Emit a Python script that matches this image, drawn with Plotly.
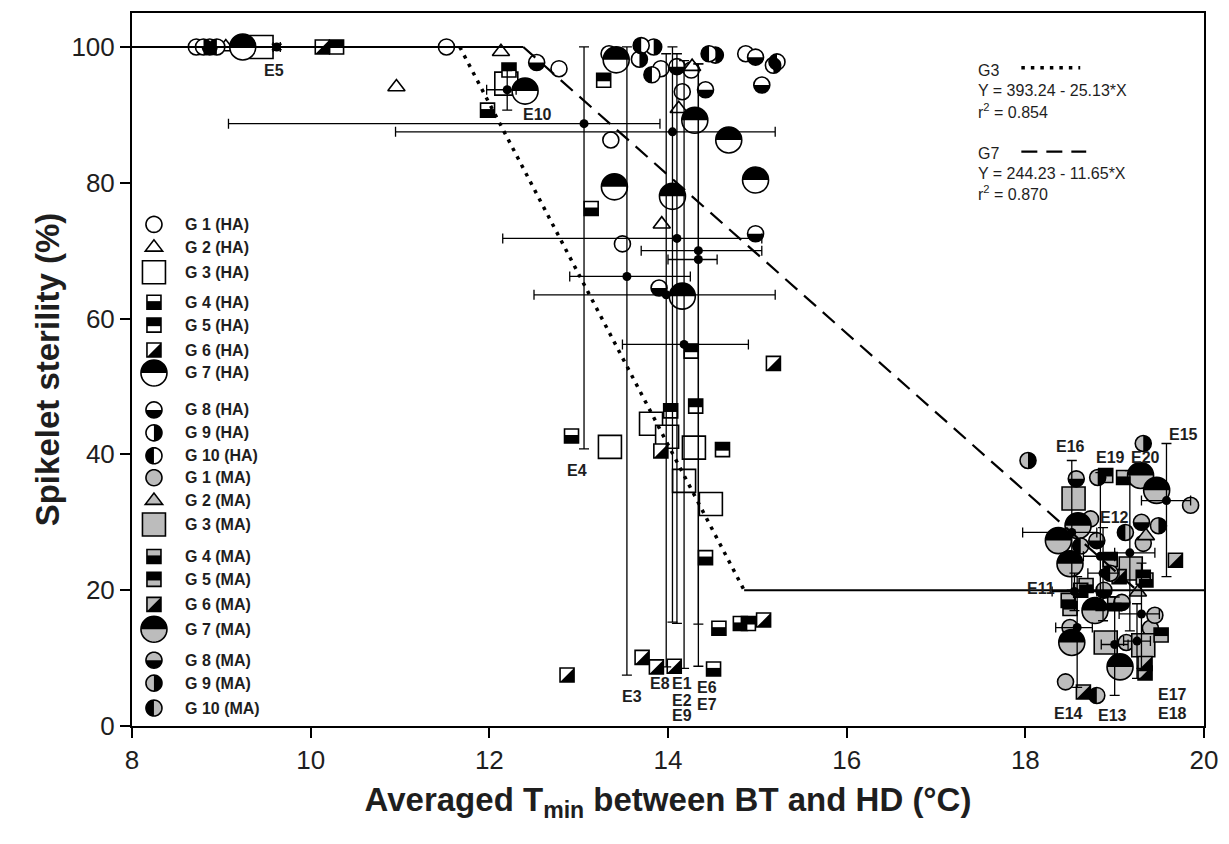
import math
import plotly.graph_objects as go

# ---------------- data ----------------
# HA = high-altitude (white), MA = mid-altitude (grey)
G1_HA_x = [8.72, 11.52, 12.78, 13.34, 13.36, 13.49, 13.92, 14.16, 14.26, 14.87]
G1_HA_y = [100.0, 100.0, 96.8, 99.0, 86.3, 71.0, 96.8, 93.4, 96.6, 99.0]
G2_HA_x = [9.05, 10.96, 12.13, 14.27, 14.12, 13.93]
G2_HA_y = [100.0, 94.1, 99.3, 97.1, 90.9, 73.9]
G3_HA_x = [9.45, 12.19, 13.35, 13.81, 13.99, 14.29, 14.18, 14.48]
G3_HA_y = [100.0, 94.6, 41.1, 44.5, 42.6, 41.0, 36.1, 32.7]
G4_HA_x = [11.98, 13.14, 12.92, 14.42, 14.57, 14.51, 14.81]
G4_HA_y = [90.7, 76.2, 42.7, 24.8, 14.4, 8.4, 15.1]
G5_HA_x = [10.29, 12.22, 13.28, 14.03, 14.31, 14.61, 14.26, 14.90]
G5_HA_y = [100.0, 96.6, 95.1, 46.4, 47.1, 40.7, 55.2, 15.1]
G6_HA_x = [10.13, 15.18, 12.87, 13.71, 13.87, 14.07, 13.92, 15.07]
G6_HA_y = [100.0, 53.4, 7.5, 10.1, 8.7, 8.8, 40.5, 15.6]
G7_HA_x = [9.24, 12.40, 13.42, 14.30, 14.68, 13.40, 14.05, 14.98, 14.16]
G7_HA_y = [100.0, 93.5, 98.1, 89.2, 86.3, 79.4, 78.0, 80.4, 63.3]
G8_HA_x = [8.87, 12.53, 14.10, 14.42, 14.98, 15.05, 14.98, 13.90]
G8_HA_y = [100.0, 97.7, 97.1, 93.7, 98.5, 94.4, 72.5, 64.5]
G9_HA_x = [8.80, 13.68, 13.84, 14.53, 15.18]
G9_HA_y = [100.0, 98.2, 100.0, 98.8, 97.3]
G10_HA_x = [8.95, 13.70, 13.82, 14.46, 15.22]
G10_HA_y = [100.0, 100.2, 95.9, 99.0, 97.8]

G1_MA_x = [19.85, 18.73, 19.32, 19.40, 19.13, 18.50, 18.45, 19.45]
G1_MA_y = [32.5, 30.5, 26.9, 14.4, 12.3, 14.5, 6.5, 16.3]
G2_MA_x = [19.26, 19.35]
G2_MA_y = [19.7, 28.0]
G3_MA_x = [18.54, 19.18, 18.90, 19.32]
G3_MA_y = [33.5, 23.2, 12.3, 11.9]
G4_MA_x = [18.48, 18.68, 19.10, 19.35, 19.00]
G4_MA_y = [18.5, 20.7, 36.6, 21.5, 18.0]
G5_MA_x = [18.90, 19.52, 18.50, 19.32, 18.95]
G5_MA_y = [36.9, 13.4, 17.3, 21.9, 24.5]
G6_MA_x = [19.68, 18.65, 19.34, 19.34, 18.62, 19.05]
G6_MA_y = [24.4, 5.0, 7.8, 9.2, 20.0, 22.0]
G7_MA_x = [19.29, 19.47, 18.59, 18.37, 18.50, 18.78, 18.52, 19.06]
G7_MA_y = [36.9, 34.7, 29.5, 27.3, 23.9, 17.0, 12.3, 8.7]
G8_MA_x = [18.57, 18.80, 19.08, 18.88, 19.30]
G8_MA_y = [36.4, 27.3, 18.2, 20.0, 30.0]
G9_MA_x = [18.03, 19.32, 19.49, 18.81]
G9_MA_y = [39.1, 41.6, 29.5, 36.6]
G10_MA_x = [18.80, 19.12, 18.95, 18.62]
G10_MA_y = [4.5, 28.5, 22.5, 26.5]

# environment means with error bars
ENV_name = ["E1", "E2", "E3", "E4", "E5", "E6", "E7", "E8", "E9", "E10",
            "E11", "E12", "E13", "E14", "E15", "E16", "E17", "E18", "E19", "E20"]
ENV_x = [14.10, 14.34, 13.54, 13.06, 9.62, 14.18, 14.34, 13.98, 14.05, 12.20,
         18.55, 18.87, 19.00, 18.58, 19.58, 18.52, 19.30, 19.25, 18.84, 19.17]
ENV_y = [71.8, 70.0, 66.2, 88.7, 100.0, 56.2, 68.7, 63.5, 87.5, 93.7,
         19.8, 22.5, 12.0, 14.5, 33.2, 28.5, 16.5, 12.5, 25.0, 25.5]
ENV_x_lo = [12.15, 13.70, 12.90, 9.08, 9.58, 13.49, 14.00, 12.50, 10.95, 11.97,
            18.30, 18.70, 18.85, 18.34, 19.30, 17.97, 19.05, 19.10, 18.65, 19.00]
ENV_x_hi = [15.05, 15.05, 14.25, 13.91, 9.66, 14.90, 14.55, 15.20, 15.20, 12.30,
            18.80, 19.05, 19.15, 18.75, 19.85, 18.80, 19.50, 19.40, 19.00, 19.45]
ENV_y_lo = [15.1, 8.8, 7.5, 40.8, 99.6, 8.5, 15.0, 8.7, 15.3, 90.7,
            17.0, 15.5, 4.5, 5.7, 22.0, 20.0, 8.5, 7.0, 17.0, 14.0]
ENV_y_hi = [99.0, 97.5, 100.0, 100.0, 100.4, 98.0, 97.5, 99.0, 100.0, 96.5,
            22.5, 29.2, 19.0, 22.0, 41.6, 39.1, 24.0, 18.0, 37.3, 37.6]
# label positions for environment names
ENV_label_x = [14.16, 14.16, 13.60, 12.98, 9.59, 14.44, 14.44, 13.91, 14.16, 12.54,
               18.17, 19.00, 18.98, 18.48, 19.77, 18.50, 19.65, 19.65, 18.95, 19.35]
ENV_label_y = [6.3, 3.8, 4.3, 37.6, 96.6, 5.6, 3.2, 6.2, 1.5, 90.0,
               20.3, 30.7, 1.5, 1.9, 43.0, 41.1, 4.7, 1.8, 39.5, 39.5]

# fitted models
G3_intercept, G3_slope, G3_r2 = 393.24, -25.13, 0.854
G7_intercept, G7_slope, G7_r2 = 244.23, -11.65, 0.870
PLATEAU_HIGH, PLATEAU_LOW = 100.0, 20.0
X_MIN, X_MAX = 8.0, 20.0

# ---------------- styling ----------------
WHITE = "white"
GREY = "#bcbcbc"
INK = "#1e1e1e"
FONT = "Liberation Sans, Arial, sans-serif"

KIND_STYLE = {
    "G 1": ("circle", "circle", 16),
    "G 2": ("triangle-up", "none", 15),
    "G 3": ("square", "none", 23),
    "G 4": ("square", "sq_bottom", 14),
    "G 5": ("square", "sq_top", 14),
    "G 6": ("square", "sq_diag", 14),
    "G 7": ("circle", "circ_top", 26),
    "G 8": ("circle", "circ_bottom", 16),
    "G 9": ("circle", "circ_right", 16),
    "G 10": ("circle", "circ_left", 16),
}

GROUPS = [
    ("G 1 (HA)", G1_HA_x, G1_HA_y, WHITE), ("G 2 (HA)", G2_HA_x, G2_HA_y, WHITE),
    ("G 3 (HA)", G3_HA_x, G3_HA_y, WHITE), ("G 4 (HA)", G4_HA_x, G4_HA_y, WHITE),
    ("G 5 (HA)", G5_HA_x, G5_HA_y, WHITE), ("G 6 (HA)", G6_HA_x, G6_HA_y, WHITE),
    ("G 7 (HA)", G7_HA_x, G7_HA_y, WHITE), ("G 8 (HA)", G8_HA_x, G8_HA_y, WHITE),
    ("G 9 (HA)", G9_HA_x, G9_HA_y, WHITE), ("G 10 (HA)", G10_HA_x, G10_HA_y, WHITE),
    ("G 1 (MA)", G1_MA_x, G1_MA_y, GREY), ("G 2 (MA)", G2_MA_x, G2_MA_y, GREY),
    ("G 3 (MA)", G3_MA_x, G3_MA_y, GREY), ("G 4 (MA)", G4_MA_x, G4_MA_y, GREY),
    ("G 5 (MA)", G5_MA_x, G5_MA_y, GREY), ("G 6 (MA)", G6_MA_x, G6_MA_y, GREY),
    ("G 7 (MA)", G7_MA_x, G7_MA_y, GREY), ("G 8 (MA)", G8_MA_x, G8_MA_y, GREY),
    ("G 9 (MA)", G9_MA_x, G9_MA_y, GREY), ("G 10 (MA)", G10_MA_x, G10_MA_y, GREY),
]

# legend rows: vertical pixel centre of each row (screen pixels)
LEGEND_ROW_PX = [223, 246, 271, 301, 324, 349, 372, 409, 432, 455,
                 477, 500, 524, 556, 579, 604, 629, 660, 683, 708]

OFF = 8                      # page body margin
W, H = 1213, 828
ML, MR, MT, MB = 124, 15, 3, 110
PW, PH = W - ML - MR, H - MT - MB


def px_to_paper(px, py):
    fx, fy = px - OFF, py - OFF
    return (fx - ML) / PW, (H - MB - fy) / PH


def path_from(points):
    return "M " + " L ".join(f"{x:.2f},{y:.2f}" for x, y in points) + " Z"


def arc(r, a0, a1, n=18):
    return [(r * math.cos(math.radians(a0 + (a1 - a0) * i / n)),
             r * math.sin(math.radians(a0 + (a1 - a0) * i / n))) for i in range(n + 1)]


def half_path(kind, size):
    r = size / 2.0
    if kind == "circ_top":
        return path_from(arc(r, 0, 180))
    if kind == "circ_bottom":
        return path_from(arc(r, 180, 360))
    if kind == "circ_right":
        return path_from(arc(r, -90, 90))
    if kind == "circ_left":
        return path_from(arc(r, 90, 270))
    if kind == "sq_bottom":
        return path_from([(-r, -r), (r, -r), (r, 0.15 * r), (-r, 0.15 * r)])
    if kind == "sq_top":
        return path_from([(-r, r), (r, r), (r, -0.15 * r), (-r, -0.15 * r)])
    if kind == "sq_diag":
        return path_from([(-r, -r), (r, -r), (r, r)])
    return None


def base_path(symbol, size):
    r = size / 2.0
    if symbol == "circle":
        return path_from(arc(r, 0, 360, 36)[:-1])
    if symbol == "square":
        return path_from([(-r, -r), (r, -r), (r, r), (-r, r)])
    rt = r * 2 / math.sqrt(3)
    return path_from([(-rt, -r / 2), (rt, -r / 2), (0, r)])


fig = go.Figure()
shapes = []

# group markers
for name, xs, ys, fill in GROUPS:
    key = name.split(" (")[0]
    symbol, half, size = KIND_STYLE[key]
    fig.add_trace(go.Scatter(
        x=xs, y=ys, mode="markers", name=name, showlegend=False,
        marker=dict(symbol=symbol, size=size, color=fill,
                    line=dict(color="black", width=1.6)),
        cliponaxis=False))
    hp = half_path(half, size)
    if hp:
        for x, y in zip(xs, ys):
            shapes.append(dict(type="path", xref="x", yref="y",
                               xsizemode="pixel", ysizemode="pixel",
                               xanchor=x, yanchor=y, path=hp,
                               fillcolor="black", line=dict(width=0), layer="above"))

# regression lines
x_g3_top = (PLATEAU_HIGH - G3_intercept) / G3_slope
x_g3_bot = (PLATEAU_LOW - G3_intercept) / G3_slope
x_g7_top = (PLATEAU_HIGH - G7_intercept) / G7_slope
x_g7_bot = (PLATEAU_LOW - G7_intercept) / G7_slope

fig.add_trace(go.Scatter(x=[X_MIN, x_g7_top], y=[PLATEAU_HIGH, PLATEAU_HIGH], mode="lines",
                         line=dict(color="black", width=2), showlegend=False))
fig.add_trace(go.Scatter(x=[x_g3_bot, X_MAX], y=[PLATEAU_LOW, PLATEAU_LOW], mode="lines",
                         line=dict(color="black", width=2), showlegend=False))
fig.add_trace(go.Scatter(x=[x_g3_top, x_g3_bot],
                         y=[G3_intercept + G3_slope * x_g3_top, G3_intercept + G3_slope * x_g3_bot],
                         mode="lines", line=dict(color="black", width=3.5, dash="3.5px,6px"),
                         showlegend=False))
fig.add_trace(go.Scatter(x=[x_g7_top, x_g7_bot],
                         y=[G7_intercept + G7_slope * x_g7_top, G7_intercept + G7_slope * x_g7_bot],
                         mode="lines", line=dict(color="black", width=2.2, dash="16px,9px"),
                         showlegend=False))

# environment means with error bars
fig.add_trace(go.Scatter(
    x=ENV_x, y=ENV_y, mode="markers", showlegend=False, cliponaxis=False,
    marker=dict(color="black", size=9),
    error_x=dict(type="data", symmetric=False,
                 array=[h - x for h, x in zip(ENV_x_hi, ENV_x)],
                 arrayminus=[x - l for l, x in zip(ENV_x_lo, ENV_x)],
                 color="black", thickness=1.3, width=5),
    error_y=dict(type="data", symmetric=False,
                 array=[h - y for h, y in zip(ENV_y_hi, ENV_y)],
                 arrayminus=[y - l for l, y in zip(ENV_y_lo, ENV_y)],
                 color="black", thickness=1.3, width=5)))

annotations = []
for n, lx, ly in zip(ENV_name, ENV_label_x, ENV_label_y):
    annotations.append(dict(x=lx, y=ly, xref="x", yref="y", text=f"<b>{n}</b>",
                            showarrow=False, font=dict(family=FONT, size=16, color=INK)))

# manual legend
for (name, xs, ys, fill), py in zip(GROUPS, LEGEND_ROW_PX):
    key = name.split(" (")[0]
    symbol, half, size = KIND_STYLE[key]
    ax, ay = px_to_paper(154, py)
    shapes.append(dict(type="path", xref="paper", yref="paper", xsizemode="pixel",
                       ysizemode="pixel", xanchor=ax, yanchor=ay,
                       path=base_path(symbol, size), fillcolor=fill,
                       line=dict(color="black", width=1.6), layer="above"))
    hp = half_path(half, size)
    if hp:
        shapes.append(dict(type="path", xref="paper", yref="paper", xsizemode="pixel",
                           ysizemode="pixel", xanchor=ax, yanchor=ay, path=hp,
                           fillcolor="black", line=dict(width=0), layer="above"))
    tx, ty = px_to_paper(183, py)
    annotations.append(dict(x=tx, y=ty, xref="paper", yref="paper", text=f"<b>{name}</b>",
                            xanchor="left", yanchor="middle", showarrow=False,
                            font=dict(family=FONT, size=16, color=INK)))

# model annotation box (top right)
box_lines = [
    ("G3", 69), (f"Y = {G3_intercept:.2f} - {abs(G3_slope):.2f}*X", 89),
    (f"r<sup>2</sup> = {G3_r2:.3f}", 109),
    ("G7", 152), (f"Y = {G7_intercept:.2f} - {abs(G7_slope):.2f}*X", 172),
    (f"r<sup>2</sup> = {G7_r2:.3f}", 192),
]
for txt, py in box_lines:
    tx, ty = px_to_paper(978, py)
    annotations.append(dict(x=tx, y=ty, xref="paper", yref="paper", text=txt,
                            xanchor="left", yanchor="middle", showarrow=False,
                            font=dict(family=FONT, size=16, color=INK)))
x0, y0 = px_to_paper(1023, 66)
x1, _ = px_to_paper(1082, 66)
shapes.append(dict(type="line", xref="paper", yref="paper", x0=x0, x1=x1, y0=y0, y1=y0,
                   line=dict(color="black", width=3.5, dash="3.5px,6px")))
x0, y0 = px_to_paper(1023, 150)
x1, _ = px_to_paper(1088, 150)
shapes.append(dict(type="line", xref="paper", yref="paper", x0=x0, x1=x1, y0=y0, y1=y0,
                   line=dict(color="black", width=2.2, dash="16px,9px")))

fig.update_layout(
    width=W, height=H, margin=dict(l=ML, r=MR, t=MT, b=MB),
    paper_bgcolor="white", plot_bgcolor="white",
    shapes=shapes, annotations=annotations, showlegend=False,
    font=dict(family=FONT, color=INK),
)
fig.update_xaxes(range=[X_MIN, X_MAX], tickvals=[8, 10, 12, 14, 16, 18, 20],
                 ticks="outside", ticklen=10, tickwidth=2, tickcolor="black",
                 showline=True, linewidth=2, linecolor="black", mirror=True,
                 showgrid=False, zeroline=False,
                 tickfont=dict(family=FONT, size=26, color=INK),
                 title=dict(text="<b>Averaged T<sub>min</sub> between BT and HD (°C)</b>",
                            font=dict(family=FONT, size=33, color=INK), standoff=14))
fig.update_yaxes(range=[0, 105], tickvals=[0, 20, 40, 60, 80, 100],
                 ticks="outside", ticklen=10, tickwidth=2, tickcolor="black",
                 showline=True, linewidth=2, linecolor="black", mirror=True,
                 showgrid=False, zeroline=False,
                 tickfont=dict(family=FONT, size=26, color=INK),
                 title=dict(text="<b>Spikelet sterility (%)</b>",
                            font=dict(family=FONT, size=33, color=INK), standoff=2))

fig.write_html("out.html")
